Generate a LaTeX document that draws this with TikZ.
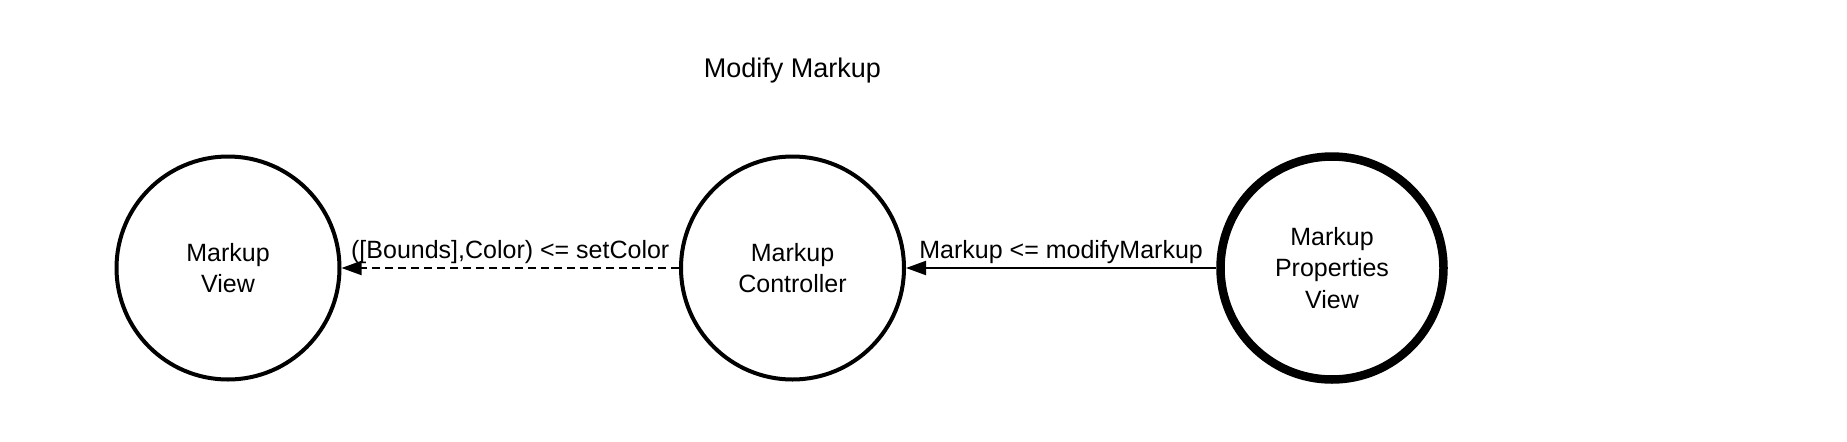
\documentclass[tikz,border=0pt]{standalone}
\usepackage{fontspec}
\setmainfont{Liberation Sans}
\usetikzlibrary{arrows.meta}
\usetikzlibrary{positioning}

\begin{document}
\begin{tikzpicture}[x=0.5pt,y=0.5pt,
  bubble/.style={circle,draw,line width=2pt,minimum size=111.5pt,
    align=center,font=\fontsize{12.5}{15.7}\selectfont},
  msg/.style={line width=1pt,-{Triangle[length=10pt,width=7pt]}},
  msglabel/.style={midway,above,inner sep=1.5pt,font=\fontsize{12.5}{15}\selectfont}]
\useasboundingbox (0,0) rectangle (1847,441);

\node[bubble] (view) at (228,173) {Markup\\View};
\node[bubble] (ctrl) at (792.5,173) {Markup\\Controller};
\node[bubble,line width=4.25pt] (props) at (1332,173) {Markup\\Properties\\View};

\node[anchor=base,font=\fontsize{13.5}{15}\selectfont] (title) at (792.5,364) {Modify Markup};

\draw[msg,dash pattern=on 4pt off 2.5pt]
  (ctrl)--(view) node[msglabel]{([Bounds],Color) <= setColor};
\draw[msg]
  (props)--(ctrl) node[msglabel]{Markup <= modifyMarkup};
\end{tikzpicture}
\end{document}
